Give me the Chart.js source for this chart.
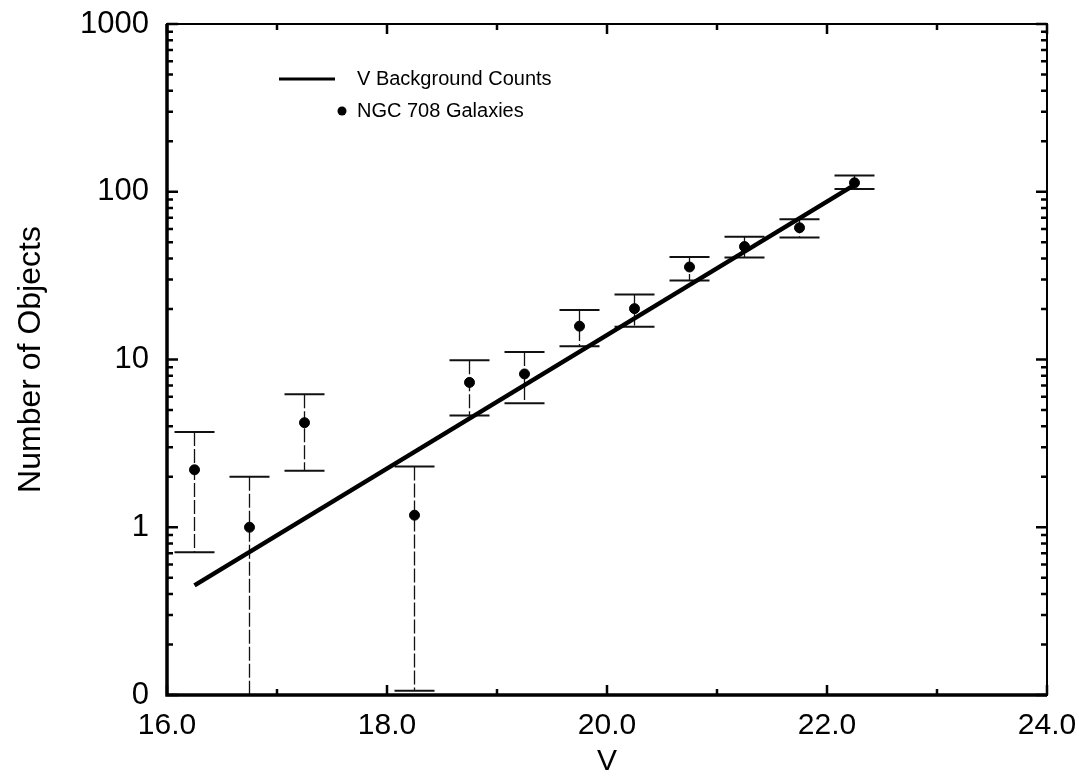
<!DOCTYPE html>
<html>
<head>
<meta charset="utf-8">
<script src="https://cdn.jsdelivr.net/npm/chart.js@4.4.1/dist/chart.umd.min.js"></script>
<style>
  html, body { margin: 0; padding: 0; background: #fff; }
  #wrap { width: 1079px; height: 780px; }
</style>
</head>
<body>
<div id="wrap"><canvas id="countsChart" width="1079" height="780"></canvas></div>
<script>
// V magnitude bins (centre of each 0.5 mag bin)
const vBins = [16.25, 16.75, 17.25, 18.25, 18.75, 19.25, 19.75, 20.25, 20.75, 21.25, 21.75, 22.25];
// NGC 708 galaxy counts per bin
const galaxyCounts = [2.2, 1.0, 4.2, 1.18, 7.3, 8.2, 15.8, 20.1, 35.6, 47.1, 61, 113];
// upper / lower end of the error bars (0 = runs off the bottom of the log axis)
const countsUpper = [3.7, 2.0, 6.2, 2.3, 9.9, 11.1, 19.7, 24.4, 40.8, 54.0, 68.5, 125];
const countsLower = [0.71, 0, 2.17, 0.106, 4.63, 5.48, 12.0, 15.7, 29.6, 40.5, 53.3, 104];

// V background counts line (end points)
const backgroundV = [16.25, 22.25];
const backgroundCounts = [0.45, 110];

// axis ticks
const xTicks = [16, 17, 18, 19, 20, 21, 22, 23, 24];
const yDecades = [0.1, 1, 10, 100, 1000];
const yTickLabels = ['0', '1', '10', '100', '1000'];

const FONT = '"Liberation Sans", Arial, Helvetica, sans-serif';

// every minor tick on the log axis: 1..9 x each decade
function logTickValues() {
    const out = [];
    for (let d = 0; d < yDecades.length; d++) {
        out.push(yDecades[d]);
        if (d < yDecades.length - 1) {
            for (let m = 2; m <= 9; m++) out.push(+(yDecades[d] * m).toPrecision(3));
        }
    }
    return out;
}

// draws error bars, the frame with inward ticks, and the legend
const framePlugin = {
    id: 'framePlugin',
    beforeDatasetsDraw(chart) {
        const c = chart.ctx;
        const xs = chart.scales.x, ys = chart.scales.y;
        const area = chart.chartArea;
        c.save();
        c.strokeStyle = '#111';
        for (let i = 0; i < vBins.length; i++) {
            const px = xs.getPixelForValue(vBins[i]);
            const top = ys.getPixelForValue(countsUpper[i]);
            const clipped = countsLower[i] <= ys.min;
            const bot = clipped ? area.bottom : ys.getPixelForValue(countsLower[i]);
            // vertical bar, thin and broken like the scan
            c.lineWidth = 1.3;
            c.setLineDash([14, 3]);
            c.beginPath();
            c.moveTo(px, top);
            c.lineTo(px, bot);
            c.stroke();
            c.setLineDash([]);
            // caps
            c.lineWidth = 2;
            c.beginPath();
            c.moveTo(px - 20, top);
            c.lineTo(px + 20, top);
            if (!clipped) {
                c.moveTo(px - 20, bot);
                c.lineTo(px + 20, bot);
            }
            c.stroke();
        }
        c.restore();
    },
    afterDraw(chart) {
        const c = chart.ctx;
        const xs = chart.scales.x, ys = chart.scales.y;
        const a = chart.chartArea;
        c.save();
        c.strokeStyle = '#000';
        // frame
        c.lineWidth = 2;
        c.strokeRect(a.left, a.top, a.right - a.left, a.bottom - a.top);
        c.lineWidth = 3.5;
        c.beginPath();
        c.moveTo(a.left, a.top);
        c.lineTo(a.left, a.bottom);
        c.lineTo(a.right, a.bottom);
        c.stroke();

        // y ticks, left and right, pointing inwards
        c.lineWidth = 2.5;
        c.beginPath();
        logTickValues().forEach(v => {
            const py = ys.getPixelForValue(v);
            const len = yDecades.includes(v) ? 11 : 6;
            c.moveTo(a.left, py); c.lineTo(a.left + len, py);
            c.moveTo(a.right, py); c.lineTo(a.right - len, py);
        });
        // x ticks, bottom and top
        xTicks.forEach(v => {
            const px = xs.getPixelForValue(v);
            const len = v % 2 === 0 ? 10 : 6;
            c.moveTo(px, a.bottom); c.lineTo(px, a.bottom - len);
            c.moveTo(px, a.top); c.lineTo(px, a.top + len);
        });
        c.stroke();

        // legend
        c.lineWidth = 3;
        c.beginPath();
        c.moveTo(279, 79);
        c.lineTo(335, 79);
        c.stroke();
        c.fillStyle = '#000';
        c.beginPath();
        c.arc(342, 111, 4.5, 0, Math.PI * 2);
        c.fill();
        c.font = '20px ' + FONT;
        c.textBaseline = 'middle';
        c.textAlign = 'left';
        c.fillText(chart.data.datasets[0].label, 357, 79);
        c.fillText(chart.data.datasets[1].label, 357, 111);
        c.restore();
    }
};

const ctx = document.getElementById('countsChart').getContext('2d');

const chart = new Chart(ctx, {
    type: 'scatter',
    data: {
        datasets: [
            {
                label: 'V Background Counts',
                data: backgroundV.map((v, i) => ({ x: v, y: backgroundCounts[i] })),
                showLine: true,
                borderColor: '#000',
                borderWidth: 4.5,
                pointRadius: 0,
                order: 2
            },
            {
                label: 'NGC 708 Galaxies',
                data: vBins.map((v, i) => ({ x: v, y: galaxyCounts[i] })),
                showLine: false,
                backgroundColor: '#000',
                borderColor: '#000',
                pointRadius: 5,
                order: 1
            }
        ]
    },
    options: {
        responsive: false,
        animation: false,
        devicePixelRatio: 1,
        layout: { padding: { left: 0, top: 24, right: 32, bottom: 0 } },
        plugins: {
            legend: { display: false },
            tooltip: { enabled: false }
        },
        scales: {
            x: {
                type: 'linear',
                min: 16,
                max: 24,
                afterBuildTicks: s => { s.ticks = xTicks.map(v => ({ value: v })); },
                afterFit: s => { s.height = 85; s.paddingLeft = 0; s.paddingRight = 0; },
                grid: { display: false },
                border: { display: false },
                ticks: {
                    autoSkip: false,
                    maxRotation: 0,
                    padding: 5,
                    color: '#000',
                    font: { family: FONT, size: 30 },
                    callback: v => (v % 2 === 0 ? v.toFixed(1) : '')
                },
                title: {
                    display: true,
                    text: 'V',
                    color: '#000',
                    font: { family: FONT, size: 30 },
                    padding: { top: 0, bottom: 0 }
                }
            },
            y: {
                type: 'logarithmic',
                min: 0.1,
                max: 1000,
                afterBuildTicks: s => { s.ticks = logTickValues().map(v => ({ value: v })); },
                afterFit: s => { s.width = 167; s.paddingTop = 0; s.paddingBottom = 0; },
                grid: { display: false },
                border: { display: false },
                ticks: {
                    autoSkip: false,
                    padding: 10,
                    color: '#000',
                    font: { family: FONT, size: 31 },
                    callback: v => {
                        const k = yDecades.findIndex(d => Math.abs(d - v) < 1e-9);
                        return k >= 0 ? yTickLabels[k] : '';
                    }
                },
                title: {
                    display: true,
                    text: 'Number of Objects',
                    color: '#000',
                    font: { family: FONT, size: 32 },
                    padding: { top: 12, bottom: 8 }
                }
            }
        }
    },
    plugins: [framePlugin]
});
</script>
</body>
</html>
